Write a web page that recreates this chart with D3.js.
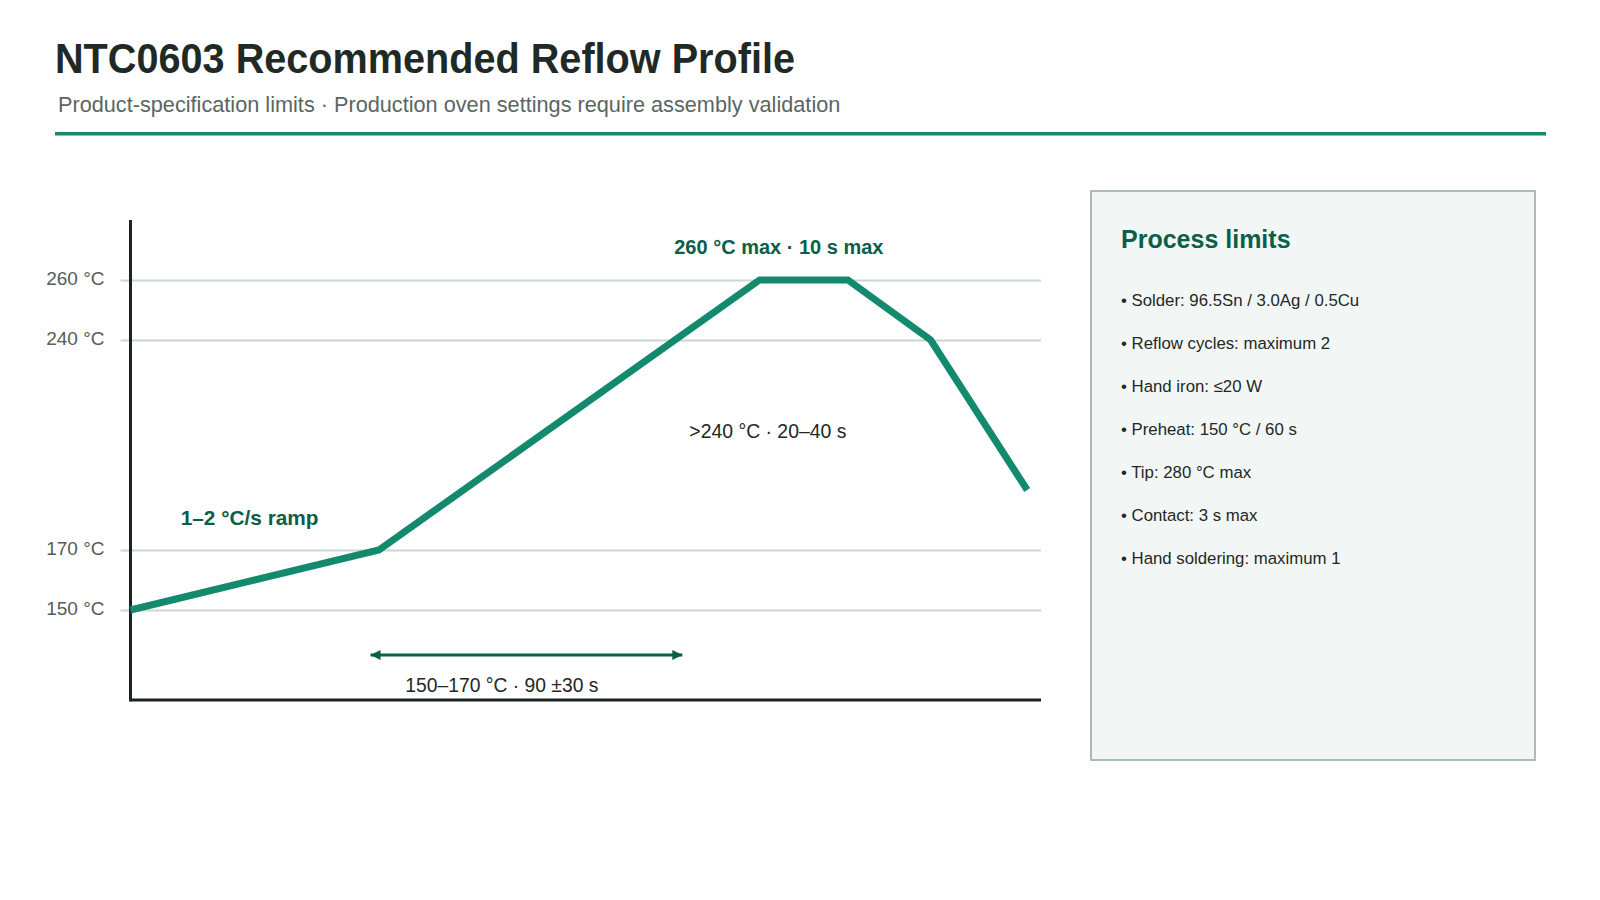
<!DOCTYPE html>
<html>
<head>
<meta charset="utf-8">
<script src="https://cdn.jsdelivr.net/npm/d3@7"></script>
<style>
  html, body { margin: 0; padding: 0; background: #ffffff; }
  svg { display: block; font-family: "Liberation Sans", Arial, sans-serif; }
</style>
</head>
<body>
<div id="chart"></div>
<script>
// Profile points (time in s, temperature in °C)
const profileTime = [0, 90, 228, 260, 290, 325];
const profileTemp = [150, 170, 260, 260, 240, 190];

// Reference temperatures drawn as grid lines
const yTicks = [150, 170, 240, 260];

// Preheat window arrow (time span, drawn at a temperature level)
const soakSpan = [87, 200];
const soakLevel = 135;

const panelTitle = 'Process limits';
const panelItems = [
    'Solder: 96.5Sn / 3.0Ag / 0.5Cu',
    'Reflow cycles: maximum 2',
    'Hand iron: \u226420 W',
    'Preheat: 150 \u00b0C / 60 s',
    'Tip: 280 \u00b0C max',
    'Contact: 3 s max',
    'Hand soldering: maximum 1'
];

const width = 1600, height = 900;
const green = '#138a6e', darkGreen = '#0b5e4a';

const svg = d3.select('#chart')
    .append('svg')
    .attr('width', width)
    .attr('height', height);

// Header
svg.append('text')
    .attr('x', 55)
    .attr('y', 73)
    .attr('font-size', 42)
    .attr('font-weight', 'bold')
    .attr('textLength', 740)
    .attr('lengthAdjust', 'spacingAndGlyphs')
    .attr('fill', '#1f2a26')
    .text('NTC0603 Recommended Reflow Profile');

svg.append('text')
    .attr('x', 58)
    .attr('y', 111.5)
    .attr('font-size', 21.7)
    .attr('fill', '#5a6662')
    .text('Product-specification limits \u00b7 Production oven settings require assembly validation');

svg.append('rect')
    .attr('x', 55)
    .attr('y', 132)
    .attr('width', 1491)
    .attr('height', 3.5)
    .attr('fill', green);

// Scales
const x = d3.scaleLinear().domain([0, 330]).range([130.5, 1041]);
const y = d3.scaleLinear().domain([120, 280]).range([700, 220]);

// Grid lines
const yAxis = d3.axisLeft(y)
    .tickValues(yTicks)
    .tickSize(-(x.range()[1] - x.range()[0]) - 10)
    .tickPadding(26)
    .tickFormat(d => `${d} \u00b0C`);

const gy = svg.append('g')
    .attr('transform', `translate(${x.range()[0]},0)`)
    .call(yAxis);
gy.select('.domain').remove();
gy.selectAll('.tick line')
    .attr('stroke', '#c9d6d2')
    .attr('stroke-width', 2)
    .attr('transform', 'translate(-10,0)');
gy.selectAll('.tick text')
    .attr('font-family', '"Liberation Sans", Arial, sans-serif')
    .attr('font-size', 19)
    .attr('fill', '#555d5a')
    .attr('dy', '0.24em');

// Axes frame
svg.append('line')
    .attr('x1', x.range()[0]).attr('x2', x.range()[0])
    .attr('y1', y(280)).attr('y2', y(120) + 1.5)
    .attr('stroke', '#1c2421').attr('stroke-width', 3);
svg.append('line')
    .attr('x1', x.range()[0]).attr('x2', x.range()[1])
    .attr('y1', y(120)).attr('y2', y(120))
    .attr('stroke', '#1c2421').attr('stroke-width', 3);

// Profile line
const line = d3.line()
    .x((d, i) => x(profileTime[i]))
    .y(d => y(d));

svg.append('path')
    .datum(profileTemp)
    .attr('d', line)
    .attr('fill', 'none')
    .attr('stroke', green)
    .attr('stroke-width', 7)
    .attr('stroke-linejoin', 'miter');

// Arrow markers
const defs = svg.append('defs');
['start', 'end'].forEach(kind => {
    defs.append('marker')
        .attr('id', `arrow-${kind}`)
        .attr('viewBox', '0 0 10 10')
        .attr('refX', kind === 'end' ? 10 : 0)
        .attr('refY', 5)
        .attr('markerWidth', 10)
        .attr('markerHeight', 10)
        .attr('markerUnits', 'userSpaceOnUse')
        .attr('orient', 'auto')
        .append('path')
        .attr('d', kind === 'end' ? 'M0,0 L10,5 L0,10 Z' : 'M10,0 L0,5 L10,10 Z')
        .attr('fill', darkGreen);
});

svg.append('line')
    .attr('x1', x(soakSpan[0])).attr('x2', x(soakSpan[1]))
    .attr('y1', y(soakLevel)).attr('y2', y(soakLevel))
    .attr('stroke', darkGreen)
    .attr('stroke-width', 3)
    .attr('marker-start', 'url(#arrow-start)')
    .attr('marker-end', 'url(#arrow-end)');

// Annotations
svg.append('text')
    .attr('x', x(235)).attr('y', y(268.7))
    .attr('text-anchor', 'middle')
    .attr('font-size', 20).attr('font-weight', 'bold')
    .attr('fill', darkGreen)
    .text('260 \u00b0C max \u00b7 10 s max');

svg.append('text')
    .attr('x', x(231)).attr('y', y(207.3))
    .attr('text-anchor', 'middle')
    .attr('font-size', 19.4)
    .attr('fill', '#222826')
    .text('>240 \u00b0C \u00b7 20\u201340 s');

svg.append('text')
    .attr('x', x(18.2)).attr('y', y(178.5))
    .attr('font-size', 20.8).attr('font-weight', 'bold')
    .attr('fill', darkGreen)
    .text('1\u20132 \u00b0C/s ramp');

svg.append('text')
    .attr('x', x(134.6)).attr('y', y(122.7))
    .attr('text-anchor', 'middle')
    .attr('font-size', 19.3)
    .attr('fill', '#222826')
    .text('150\u2013170 \u00b0C \u00b7 90 \u00b130 s');

// Side panel
const panel = svg.append('g').attr('transform', 'translate(1091,191)');
panel.append('rect')
    .attr('width', 444)
    .attr('height', 569)
    .attr('fill', '#f2f7f5')
    .attr('stroke', '#a9bcb6')
    .attr('stroke-width', 2);

panel.append('text')
    .attr('x', 30).attr('y', 57)
    .attr('font-size', 25).attr('font-weight', 'bold')
    .attr('fill', darkGreen)
    .text(panelTitle);

panel.selectAll('.item')
    .data(panelItems)
    .join('text')
    .attr('class', 'item')
    .attr('x', 30)
    .attr('y', (d, i) => 115 + i * 43)
    .attr('font-size', 16.8)
    .attr('fill', '#222826')
    .text(d => `\u2022 ${d}`);
</script>
</body>
</html>
